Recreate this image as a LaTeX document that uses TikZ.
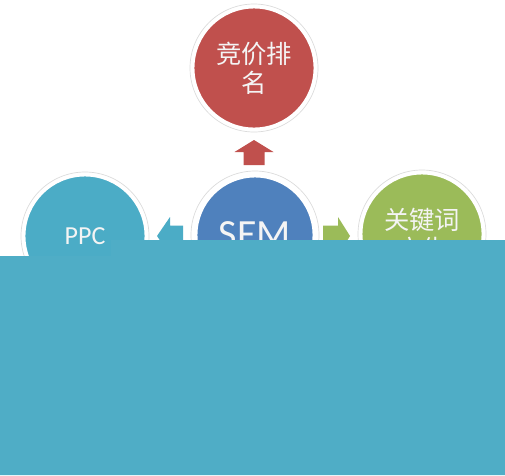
\documentclass[tikz,border=0pt]{standalone}
\usepackage{fontspec}
\setsansfont{Carlito}
\newfontfamily\cjk{Noto Sans CJK SC}
\definecolor{cred}{HTML}{C0504D}
\definecolor{cblue}{HTML}{4F81BD}
\definecolor{cgreen}{HTML}{9BBB59}
\definecolor{cteal}{HTML}{4BACC6}
\definecolor{cband}{HTML}{4FADC6}
\definecolor{ctext}{HTML}{F4F4F4}
\tikzset{
  bubble/.style={circle, draw=white, line width=2.2pt, inner sep=0pt,
    minimum size=91.5pt, text=ctext, align=center},
  halo/.style={circle, draw=black!14, line width=0.5pt, inner sep=0pt, minimum size=96pt},
  cjktext/.style={font=\cjk\fontsize{19pt}{21.75pt}\selectfont},
}
\begin{document}
\begin{tikzpicture}[x=0.75pt,y=-0.75pt]
\useasboundingbox (0,0) rectangle (505,475);
\fill[white] (0,0) rectangle (505,475);
% halos
\node[halo] (hr) at (254,68) {};
\node[halo] (hs) at (255,235) {};
\node[halo] (hp) at (85,236) {};
\node[halo] (hg) at (422,234) {};
% circles
\node[bubble, fill=cred, cjktext] (rank) at (254,68) {竞价排\\名};
\node[bubble, fill=cblue, minimum size=88.5pt, font=\sffamily\fontsize{30pt}{32pt}\selectfont] (sem) at (255,235) {SEM};
\node[bubble, fill=cteal, font=\sffamily\fontsize{19.5pt}{21pt}\selectfont] (ppc) at (85,236) {PPC};
\node[bubble, fill=cgreen, cjktext] (kw) at (422,234) {关键词\\广告};
% block arrows
\fill[cred] (243.5,165) -- (243.5,152) -- (234.5,152) -- (254,140) -- (273.5,152) -- (264.5,152) -- (264.5,165) -- cycle;
\fill[cgreen] (323,225.5) -- (338,225.5) -- (338,217) -- (350,236) -- (338,255) -- (338,246.5) -- (323,246.5) -- cycle;
\fill[cteal] (183,225.5) -- (170,225.5) -- (170,217) -- (157,236) -- (170,255) -- (170,246.5) -- (183,246.5) -- cycle;
% covering band
\fill[cband] (0,256) -- (111,256) -- (111,240) -- (505,240) -- (505,475) -- (0,475) -- cycle;
\end{tikzpicture}
\end{document}
